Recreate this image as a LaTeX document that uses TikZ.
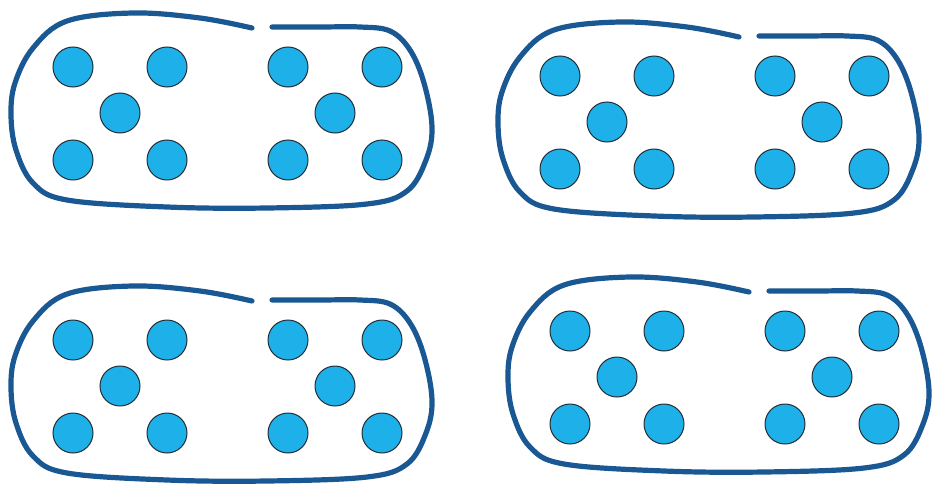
\documentclass[tikz,border=0pt]{standalone}
\definecolor{loopblue}{RGB}{26,88,148}
\definecolor{dotfill}{RGB}{30,176,232}
\definecolor{dotline}{RGB}{35,45,55}
\tikzset{
  loopline/.style={draw=loopblue,line width=5.2pt,line cap=round,line join=round},
  dotnode/.style={circle,draw=dotline,fill=dotfill,line width=1pt,minimum size=40pt,inner sep=0pt},
  pics/panel/.style={code={
    \draw[loopline] plot[smooth,tension=0.6] coordinates {
      (252,28) (200,18) (133,13) (67,21) (33,48) (15,83) (11,115) (16,150) (33,183)
      (67,200) (167,207) (267,208) (367,204) (407,191) (426,160) (432,127) (424,83)
      (410,50) (390,31) (360,27) (320,27) (272,27)};
    \foreach \gx in {0,215}{
      \node[dotnode] (-a\gx) at ({73+\gx},67) {};
      \node[dotnode] (-b\gx) at ({167+\gx},67) {};
      \node[dotnode] (-c\gx) at ({120+\gx},113) {};
      \node[dotnode] (-d\gx) at ({73+\gx},160) {};
      \node[dotnode] (-e\gx) at ({167+\gx},160) {};
    }
  }}
}
\begin{document}
\begin{tikzpicture}[x=1pt,y=-1pt]
\useasboundingbox (0,0) rectangle (933,487);
\pic (pA) at (0,0) {panel};
\pic (pB) at (487,9) {panel};
\pic (pC) at (0,273) {panel};
\pic (pD) at (497,264) {panel};
\end{tikzpicture}
\end{document}
